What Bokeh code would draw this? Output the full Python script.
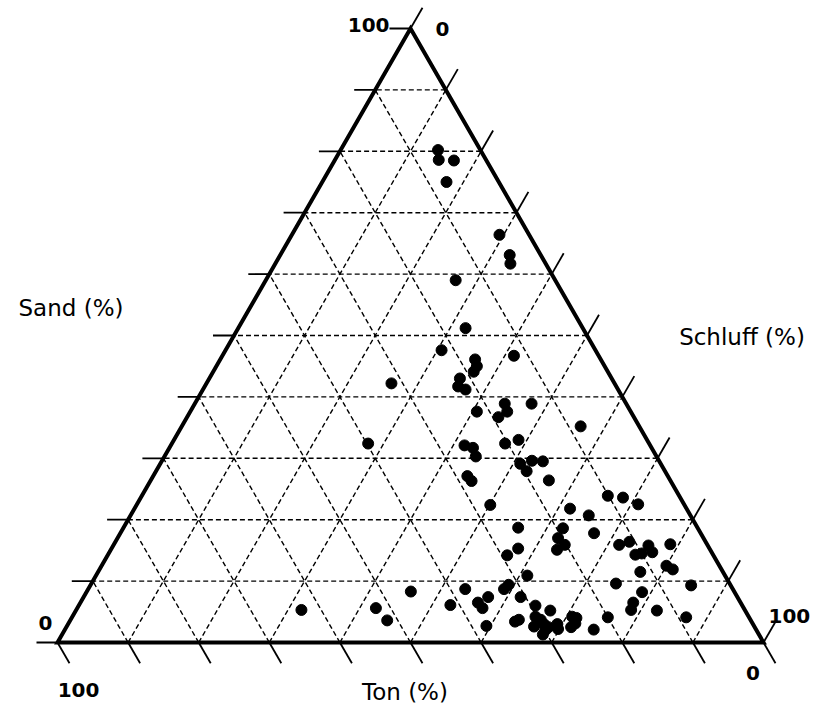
import numpy as np
from bokeh.plotting import figure
from bokeh.models import Range1d
from bokeh.embed import file_html
from bokeh.resources import INLINE
from bokeh.core.properties import value

# ---- data: soil texture samples (percent) ----
sand = [80.2, 78.6, 78.5, 75.0, 66.4, 63.1, 61.7, 59.0, 51.2, 47.6,
        46.7, 46.1, 45.0, 44.1, 42.2, 43.0, 41.7, 41.2, 38.9, 37.6,
        38.9, 37.6, 36.7, 35.2, 32.4, 32.1, 31.7, 30.3, 32.4, 33.0,
        29.1, 29.6, 29.5, 27.9, 27.1, 26.3, 26.4, 22.4, 23.9, 23.6,
        22.5, 21.8, 20.7, 18.7, 18.6, 17.8, 17.0, 15.9, 15.1, 15.3,
        14.2, 15.9, 16.4, 14.3, 14.5, 15.8, 14.7, 16.0, 11.5, 12.5,
        11.9, 10.9, 9.6, 9.3, 8.7, 9.4, 8.7, 8.2, 7.4, 6.5,
        5.6, 6.1, 7.4, 6.0, 5.2, 6.5, 5.3, 5.2, 4.1, 4.1,
        4.2, 4.0, 3.4, 3.7, 4.2, 3.7, 2.6, 3.0, 2.5, 3.0,
        2.2, 2.5, 1.3, 2.1, 2.7, 5.3, 8.3, 5.6, 3.6, 2.0, 3.1]
schluff = [13.8, 14.7, 16.9, 17.6, 29.4, 32.5, 33.3, 26.9, 32.2, 30.6,
           41.3, 36.1, 36.9, 36.9, 26.2, 35.5, 35.9, 37.2, 43.9, 44.9,
           47.7, 40.6, 44.1, 56.5, 27.8, 41.6, 43.0, 44.1, 47.2, 48.8,
           51.0, 52.4, 54.0, 52.5, 44.5, 45.5, 56.4, 50.1, 66.0, 68.3,
           71.0, 61.7, 64.9, 55.9, 62.3, 67.1, 62.4, 63.9, 63.2, 57.6,
           56.6, 71.6, 72.8, 74.7, 75.5, 75.8, 76.9, 78.8, 76.8, 80.0,
           81.2, 61.1, 74.3, 85.1, 53.4, 59.2, 58.9, 78.7, 57.3, 56.3,
           57.4, 52.6, 61.9, 64.7, 67.2, 78.3, 78.6, 82.3, 87.0, 75.9,
           70.8, 71.5, 63.1, 63.5, 65.6, 66.6, 66.2, 67.4, 68.3, 69.3,
           69.8, 71.5, 68.1, 74.9, 59.4, 31.9, 45.9, 42.3, 44.9, 68.1, 71.8]
ton = [6.0, 6.7, 4.6, 7.4, 4.2, 4.4, 5.0, 14.1, 16.6, 21.8,
       12.0, 17.8, 18.1, 19.0, 31.6, 21.5, 22.4, 21.6, 17.2, 17.5,
       13.4, 21.8, 19.2, 8.3, 39.8, 26.3, 25.3, 25.6, 20.4, 18.2,
       19.9, 18.0, 16.5, 19.6, 28.4, 28.2, 17.2, 27.5, 10.1, 8.1,
       6.5, 16.5, 14.4, 25.4, 19.1, 15.1, 20.6, 20.2, 21.7, 27.1,
       29.2, 12.5, 10.8, 11.0, 10.0, 8.4, 8.4, 5.2, 11.7, 7.5,
       6.9, 28.0, 16.1, 5.6, 37.9, 31.4, 32.4, 13.1, 35.3, 37.2,
       37.0, 41.3, 30.7, 29.3, 27.6, 15.2, 16.1, 12.5, 8.9, 20.0,
       25.0, 24.5, 33.5, 32.8, 30.2, 29.7, 31.2, 29.6, 29.2, 27.7,
       28.0, 26.0, 30.6, 23.0, 37.9, 62.8, 45.8, 52.1, 51.5, 29.9, 25.1]

grid_levels = [10, 20, 30, 40, 50, 60, 70, 80, 90]
tick_levels = [0, 10, 20, 30, 40, 50, 60, 70, 80, 90, 100]
end_labels = ["0", "100"]
axis_titles = ["Sand (%)", "Schluff (%)", "Ton (%)"]

# ---- geometry ----
H = np.sqrt(3) / 2
SX, SY = 7.06, 7.09           # px per unit
W, HT = 810, 708
X0 = -57 / SX                 # left edge of canvas in data units
Y0 = -(HT - 642) / SY         # bottom edge of canvas in data units


def cart(s, si, t):
    s, si, t = map(np.asarray, (s, si, t))
    tot = s + si + t
    return (si + s / 2) / tot * 100, s / tot * 100 * H


def pt(s, si, t):
    a = cart(s, si, t)
    return float(a[0]), float(a[1])


def off(p0, dx, dy):
    """shift a data point by screen pixels (dy positive = down)"""
    return p0[0] + dx / SX, p0[1] - dy / SY


p = figure(width=W, height=HT, output_backend="svg", toolbar_location=None,
           x_range=Range1d(X0, X0 + W / SX), y_range=Range1d(Y0, Y0 + HT / SY),
           x_axis_location=None, y_axis_location=None, min_border=0)
p.grid.visible = False
p.outline_line_color = None
p.background_fill_color = "white"
p.border_fill_color = "white"

# dashed grid
gx0, gy0, gx1, gy1 = [], [], [], []
for g in grid_levels:
    for a, b in ((pt(g, 100 - g, 0), pt(g, 0, 100 - g)),      # constant sand
                 (pt(0, 100 - g, g), pt(100 - g, 0, g)),      # constant ton
                 (pt(0, g, 100 - g), pt(100 - g, g, 0))):     # constant schluff
        gx0.append(a[0]); gy0.append(a[1]); gx1.append(b[0]); gy1.append(b[1])
p.segment(gx0, gy0, gx1, gy1, line_color="black", line_width=1.4, line_dash="5 3")

# ticks
tx0, ty0, tx1, ty1 = [], [], [], []
for v in tick_levels:
    for a, (dx, dy) in ((pt(v, 0, 100 - v), (-21, 0)),          # sand, left edge
                        (pt(0, 100 - v, v), (12, 20.8)),        # ton, bottom edge
                        (pt(100 - v, v, 0), (12, -20.8))):      # schluff, right edge
        b = off(a, dx, dy)
        tx0.append(a[0]); ty0.append(a[1]); tx1.append(b[0]); ty1.append(b[1])
p.segment(tx0, ty0, tx1, ty1, line_color="black", line_width=1.8)

# triangle border
vx, vy = cart([0, 0, 100], [0, 100, 0], [100, 0, 0])
p.patch(list(vx), list(vy), fill_color=None, line_color="black", line_width=4,
        line_join="miter")

# points
px, py = cart(sand, schluff, ton)
p.scatter(px, py, size=11, marker="circle", fill_color="black", line_color="black")

# end labels (anchored at visual centres)
top = pt(100, 0, 0)
bl = pt(0, 0, 100)
br = pt(0, 100, 0)
lab = [
    (off(top, -21, -3.3), end_labels[1], "right"),
    (off(top, 25, 1), end_labels[0], "left"),
    (off(bl, -5, -19.5), end_labels[0], "right"),
    (off(bl, 21, 47), end_labels[1], "center"),
    (off(br, 5, -27), end_labels[1], "left"),
    (off(br, -10.5, 30.5), end_labels[0], "center"),
]
for (x, y), t, al in lab:
    p.text([x], [y], text=[t], text_font=value("DejaVu Sans"), text_font_style="bold",
           text_font_size="20px", text_align=al, text_baseline="middle",
           text_color="black")

# axis titles
mid_left = pt(50, 0, 50)
mid_right = pt(50, 50, 0)
mid_bot = pt(0, 50, 50)
tit = [
    (off(mid_left, -163, -27), axis_titles[0]),
    (off(mid_right, 155, 2), axis_titles[1]),
    (off(mid_bot, -5.5, 49), axis_titles[2]),
]
for (x, y), t in tit:
    p.text([x], [y], text=[t], text_font=value("DejaVu Sans"), text_font_size="23px",
           text_align="center", text_baseline="middle", text_color="black")

open("out.html", "w").write(file_html(p, INLINE))
